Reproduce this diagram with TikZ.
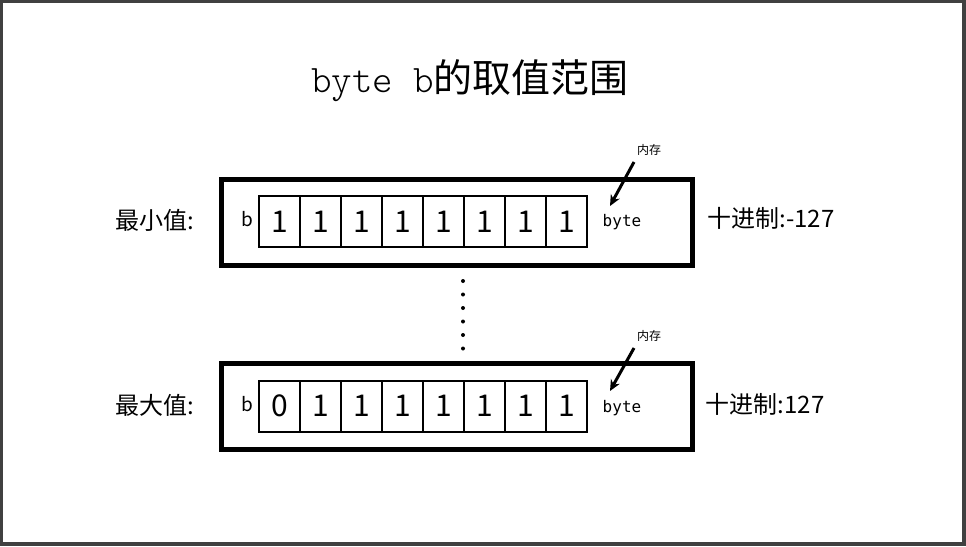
\documentclass[tikz,border=0pt]{standalone}
\usepackage{fontspec}
\usetikzlibrary{arrows.meta}
\newfontfamily\cjkfont{Noto Sans CJK SC}
\newfontfamily\bytefont{DejaVu Sans Mono}
\newfontfamily\titlemono{lmmonolt10-regular.otf}
\definecolor{framegray}{HTML}{404040}

\begin{document}
\begin{tikzpicture}[x=1pt,y=-1pt,
    memory/.style={draw,line width=5pt,minimum width=471pt,minimum height=86pt,inner sep=0pt},
    bitcell/.style={draw,line width=2pt,minimum width=41pt,minimum height=51pt,inner sep=0pt,
                    font=\cjkfont\fontsize{30}{30}\selectfont},
    rowlabel/.style={font=\cjkfont\fontsize{24}{26}\selectfont,inner sep=0pt},
    varname/.style={font=\cjkfont\fontsize{19}{20}\selectfont,inner sep=0pt},
    typename/.style={font=\bytefont\fontsize{16}{18}\selectfont,inner sep=0pt},
    memnote/.style={font=\cjkfont\fontsize{12}{13}\selectfont,inner sep=0pt},
    memarrow/.style={line width=3pt,-{Stealth[length=11pt,width=10pt]}}]
   \useasboundingbox (0,0) rectangle (966,546);
   \fill[framegray] (0,0) rectangle (966,546);
   \fill[white] (3,3) rectangle (962,542);

   \node (title) at (470,81) {\fontsize{39}{42}\selectfont{\titlemono byte b}{\cjkfont 的取值范围}};

   % minimum value
   \node[memory] (minbox) at (456.5,222.5) {};
   \foreach \bit [count=\i from 0] in {1,1,1,1,1,1,1,1}
      \node[bitcell] (minbit\i) at (279.5+41*\i,221.5) {\bit};
   \node[varname] (minvar) at (247,219) {b};
   \node[typename] (minbyte) at (622,222) {byte};
   \node[memnote] (minmem) at (649,150) {内存};
   \coordinate (mintail) at (634,162);
   \coordinate (minhead) at (610,206);
   \draw[memarrow] (mintail) -- (minhead);
   \node[rowlabel] (minlabel) at (155,220) {最小值:};
   \node[rowlabel] (mindec) at (771,218) {十进制:-127};

   % dots
   \foreach \k in {0,...,5}
      \fill (463,281+13.5*\k) circle (2pt);

   % maximum value
   \node[memory] (maxbox) at (456.5,406.5) {};
   \foreach \bit [count=\i from 0] in {0,1,1,1,1,1,1,1}
      \node[bitcell] (maxbit\i) at (279.5+41*\i,406) {\bit};
   \node[varname] (maxvar) at (247,404) {b};
   \node[typename] (maxbyte) at (622,408) {byte};
   \node[memnote] (maxmem) at (649,336) {内存};
   \coordinate (maxtail) at (634,348);
   \coordinate (maxhead) at (610,391);
   \draw[memarrow] (maxtail) -- (maxhead);
   \node[rowlabel] (maxlabel) at (155,405) {最大值:};
   \node[rowlabel] (maxdec) at (765,404) {十进制:127};
\end{tikzpicture}
\end{document}
